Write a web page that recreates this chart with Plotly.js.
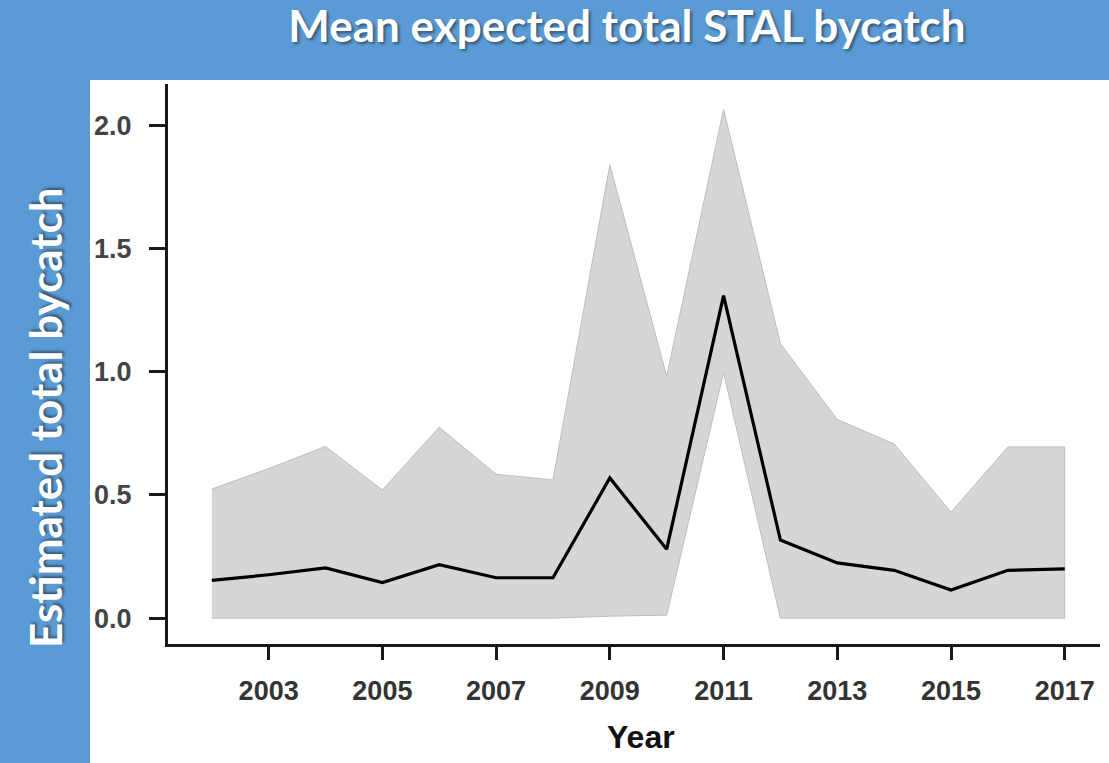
<!DOCTYPE html>
<html>
<head>
<meta charset="utf-8">
<script src="https://cdn.plot.ly/plotly-3.0.1.min.js"></script>
<style>html,body{margin:0;padding:0;background:#5b9bd5;}#chart{width:1109px;height:763px;}</style>
</head>
<body>
<div id="chart"></div>
<script>
// Data
const years = [2002, 2003, 2004, 2005, 2006, 2007, 2008, 2009, 2010, 2011, 2012, 2013, 2014, 2015, 2016, 2017];
const meanBycatch = [0.153, 0.176, 0.204, 0.144, 0.217, 0.164, 0.164, 0.569, 0.280, 1.309, 0.317, 0.224, 0.194, 0.114, 0.194, 0.200];
const upperBound = [0.524, 0.607, 0.697, 0.520, 0.775, 0.584, 0.561, 1.840, 0.982, 2.065, 1.114, 0.806, 0.707, 0.430, 0.695, 0.695];
const lowerBound = [0.0, 0.0, 0.0, 0.0, 0.0, 0.0, 0.0, 0.008, 0.012, 0.997, 0.0, 0.0, 0.0, 0.0, 0.0, 0.0];
const xTickVals = [2003, 2005, 2007, 2009, 2011, 2013, 2015, 2017];
const yTickVals = [0.0, 0.5, 1.0, 1.5, 2.0];
const titleText = "Mean expected total STAL bycatch";
const yTitleText = "Estimated total bycatch";
const xTitleText = "Year";

// Layout geometry (pixels)
const W = 1109, H = 763;
const L = 168, R = 9, T = 84, B = 119;
const pw = W - L - R, ph = H - T - B;
const px = x => (x - L) / pw;            // pixel x -> paper x
const py = y => (H - B - y) / ph;        // pixel y -> paper y

const bandX = years.concat(years.slice().reverse());
const bandY = upperBound.concat(lowerBound.slice().reverse());

const traces = [
  {
    x: bandX, y: bandY, type: 'scatter', mode: 'lines',
    fill: 'toself', fillcolor: '#d6d6d6',
    line: {color: '#bdbdbd', width: 1},
    hoverinfo: 'skip', showlegend: false
  },
  {
    x: years, y: meanBycatch, type: 'scatter', mode: 'lines',
    line: {color: '#000000', width: 3.2},
    showlegend: false
  }
];

const shadow = '2px 2px 3px rgba(0,0,0,0.45)';

const layout = {
  width: W, height: H,
  margin: {l: L, r: R, t: T, b: B, pad: 0},
  paper_bgcolor: '#5b9bd5',
  plot_bgcolor: '#ffffff',
  showlegend: false,
  title: {
    text: titleText,
    font: {family: 'Lato, "Open Sans", sans-serif', size: 44, color: '#ffffff', weight: 'bold', shadow: shadow},
    xref: 'container', yref: 'container',
    x: 627 / W, y: 1 - 27 / H, xanchor: 'center', yanchor: 'middle'
  },
  xaxis: {
    range: [2001.23, 2017.62],
    tickvals: xTickVals,
    ticktext: xTickVals.map(String),
    showgrid: false, zeroline: false,
    showline: true, linecolor: '#1a1a1a', linewidth: 3,
    ticks: 'outside', ticklen: 13, tickwidth: 3, tickcolor: '#1a1a1a',
    ticklabelstandoff: 8,
    tickfont: {family: '"Liberation Sans", Arial, sans-serif', size: 27, color: '#333333', weight: 'bold'}
  },
  yaxis: {
    range: [-0.105, 2.168],
    tickvals: yTickVals,
    ticktext: yTickVals.map(v => v.toFixed(1)),
    showgrid: false, zeroline: false,
    showline: true, linecolor: '#1a1a1a', linewidth: 3,
    ticks: 'outside', ticklen: 16, tickwidth: 3, tickcolor: '#1a1a1a',
    ticklabelstandoff: 12,
    tickfont: {family: '"Liberation Sans", Arial, sans-serif', size: 27, color: '#444444', weight: 'bold'}
  },
  shapes: [
    {
      type: 'rect', xref: 'paper', yref: 'paper', layer: 'below',
      x0: px(90), x1: px(W + 2), y0: py(H + 2), y1: py(80),
      fillcolor: '#ffffff', line: {width: 0}
    }
  ],
  annotations: [
    {
      text: yTitleText, xref: 'paper', yref: 'paper',
      x: px(45), y: py(418), xanchor: 'center', yanchor: 'middle',
      textangle: -90, showarrow: false,
      font: {family: 'Lato, "Open Sans", sans-serif', size: 44, color: '#ffffff', weight: 'bold', shadow: shadow}
    },
    {
      text: xTitleText, xref: 'paper', yref: 'paper',
      x: px(641), y: py(737), xanchor: 'center', yanchor: 'middle',
      showarrow: false,
      font: {family: '"Liberation Sans", Arial, sans-serif', size: 32, color: '#111111', weight: 'bold'}
    }
  ]
};

Plotly.newPlot('chart', traces, layout, {staticPlot: true, displayModeBar: false});
</script>
</body>
</html>
